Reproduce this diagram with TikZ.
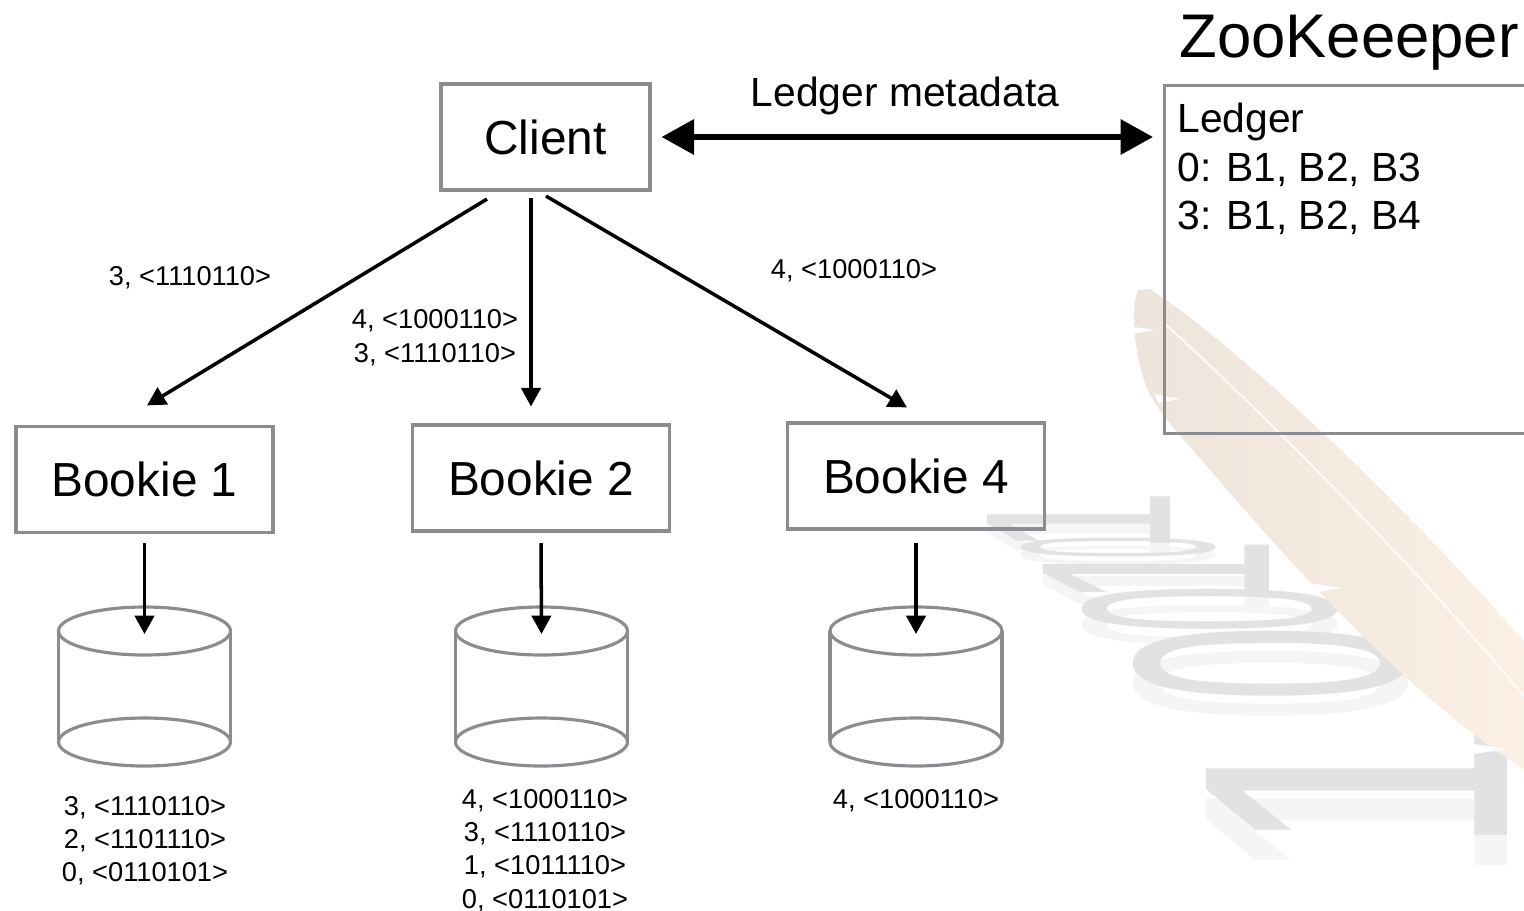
\documentclass[tikz,border=0pt]{standalone}
\usepackage{fontspec}
\setmainfont{Liberation Sans}
\usepackage{graphicx}
\usetikzlibrary{arrows.meta,calc}

\definecolor{boxgray}{HTML}{8A8C8F}
\definecolor{wmgray}{HTML}{E2E2E2}
\definecolor{wmshadow}{HTML}{F5F5F5}
\definecolor{featherA}{HTML}{EDE4DB}
\definecolor{featherB}{HTML}{FCF0E5}

\newlength\pxu
\setlength\pxu{0.02cm}

% one watermark digit lying on its side, with a faint shadow below it
% #1 name, #2 cx, #3 cy, #4 length, #5 thickness, #6 digit, #7 shadow drop
\newcommand\wmdigit[7]{%
  \node[inner sep=0pt, text=wmshadow] (#1-s) at (#2,#3+#7)
    {\resizebox{#4\pxu}{#5\pxu}{\rotatebox{90}{#6}}};
  \node[inner sep=0pt, text=wmgray] (#1) at (#2,#3)
    {\resizebox{#4\pxu}{#5\pxu}{\rotatebox{90}{#6}}};
}

% storage cylinder: #1 name of the drop point, #2 centre x
\newcommand\storedisk[2]{%
  \draw[diskline] (#2,631) ellipse [x radius=1.72cm, y radius=0.48cm];
  \draw[diskline] (#2,742) ellipse [x radius=1.72cm, y radius=0.48cm];
  \draw[diskline] (#2-86,631) -- (#2-86,742) (#2+86,631) -- (#2+86,742);
  \coordinate (#1) at (#2,634);
}

\begin{document}
\begin{tikzpicture}[x=0.02cm, y=-0.02cm,
  box/.style={draw=boxgray, line width=1.8pt, inner sep=0pt},
  boxtext/.style={font=\fontsize{27.2}{32}\selectfont},
  lbl/.style={font=\fontsize{15.5}{19}\selectfont, align=center, inner sep=0pt},
  thinarrow/.style={line width=2pt, -{Triangle[length=10.5pt,width=11pt]}},
  bothway/.style={line width=3.4pt,
    {Triangle[length=18.5pt,width=19.5pt]}-{Triangle[length=18.5pt,width=19.5pt]}},
  diskline/.style={draw=boxgray, line width=1.8pt}]

\useasboundingbox (0,0) rectangle (1524,910);
\clip (0,0) rectangle (1524,910);

% ---- background watermark: digits and feather ----
\wmdigit{wa}{1078.5}{521}{183}{60}{1}{10}
\wmdigit{wb}{1118.5}{547.5}{195}{22}{0}{8}
\wmdigit{wc}{1156}{571.5}{226}{64}{1}{12}
\wmdigit{wd}{1210}{609}{256}{46.5}{0}{16}
\wmdigit{we}{1270.5}{663.5}{275}{75.6}{0}{20}
\wmdigit{wf}{1356.5}{784.5}{301}{140}{1}{30}

\shade[left color=featherA, right color=featherB]
  (1138,290) -- (1150,289)
  .. controls (1250,355) and (1420,520) .. (1540,660)
  -- (1540,778) -- (1524,769)
  .. controls (1420,705) and (1300,575) .. (1217,478)
  .. controls (1180,435) and (1150,405) .. (1143,377)
  .. controls (1135,350) and (1130,310) .. cycle;
% barb gaps and shaft
\fill[white] (1128,326) -- (1154,330) -- (1128,335) -- cycle;
\fill[white] (1155,394) -- (1180,399) -- (1158,403) -- cycle;
\fill[white] (1300,582) -- (1342,588) -- (1306,594) -- cycle;
\fill[white] (1460,742) -- (1508,749) -- (1466,755) -- cycle;
\draw[white, line width=1.1pt, opacity=0.85]
  (1163,322) .. controls (1260,410) and (1420,570) .. (1540,715);

% ---- nodes ----
\node[box, boxtext, minimum width=4.18cm, minimum height=2.12cm] (client) at (545.5,137) {Client};
\node[box, boxtext, minimum width=5.14cm, minimum height=2.12cm] (b1) at (144.5,479.5) {Bookie 1};
\node[box, boxtext, minimum width=5.14cm, minimum height=2.12cm] (b2) at (541,478) {Bookie 2};
\node[box, boxtext, minimum width=5.14cm, minimum height=2.12cm] (b4) at (916,476) {Bookie 4};

\node[box, anchor=north west, minimum width=8cm, minimum height=6.96cm] (zk) at (1163,84) {};
\node[anchor=base west, inner sep=0pt, font=\fontsize{35.1}{40}\selectfont] (zktitle) at (1179,57) {ZooKeeeper};
\node[anchor=north west, inner sep=0pt, align=left, font=\fontsize{23.2}{27.5}\selectfont]
  (ledger) at (1177,103) {Ledger\\0: B1, B2, B3\\3: B1, B2, B4};

% ---- metadata link ----
\draw[bothway, shorten <=0.2cm, shorten >=0.2cm] (client.east) -- (client.east -| zk.west);
\node[anchor=base, inner sep=0pt, font=\fontsize{23.2}{27.5}\selectfont] (meta) at (905,106) {Ledger metadata};

% ---- writes from the client ----
\draw[thinarrow] ($(client.south)+(-58.5,7.5)$) -- ($(b1.north)+(2.5,-19.5)$);
\draw[thinarrow] ($(client.south)+(-14.5,6.5)$) -- ($(b2.north)+(-10,-17)$);
\draw[thinarrow] ($(client.south)+(0.5,4.5)$) -- ($(b4.north)+(-9,-14)$);

\node[lbl] (la) at (190,277.3) {3, <1110110>};
\node[lbl, font=\fontsize{15.5}{19.8}\selectfont] (lb) at (435,337.8) {4, <1000110>\\3, <1110110>};
\node[lbl] (lc) at (854,270.3) {4, <1000110>};

% ---- storage ----
\storedisk{d1}{144.5}
\storedisk{d2}{541.5}
\storedisk{d4}{916}

\coordinate (diskrow) at (0,543);
\draw[thinarrow] (b1.south |- diskrow) -- (d1);
\draw[thinarrow] (b2.south |- diskrow) -- (d2);
\draw[thinarrow] (b4.south |- diskrow) -- (d4);

\node[lbl] (s1) at (145,840.8) {3, <1110110>\\2, <1101110>\\0, <0110101>};
\node[lbl] (s2) at (545,850.5) {4, <1000110>\\3, <1110110>\\1, <1011110>\\0, <0110101>};
\node[lbl] (s4) at (916,800.3) {4, <1000110>};

\end{tikzpicture}
\end{document}
